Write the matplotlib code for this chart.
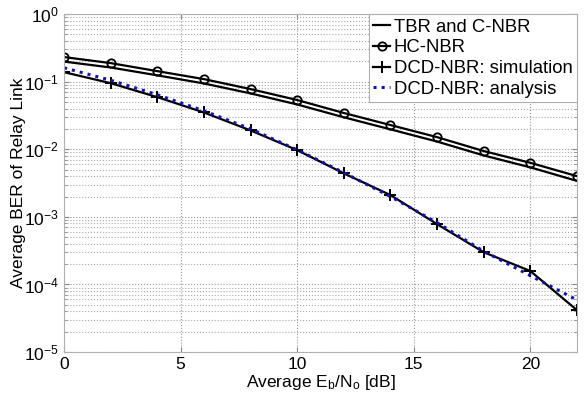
import matplotlib

matplotlib.use("Agg")
import matplotlib.pyplot as plt
from matplotlib.ticker import LogLocator, NullFormatter

plt.rcParams["font.family"] = ["Liberation Sans", "DejaVu Sans"]
plt.rcParams["mathtext.fontset"] = "custom"
plt.rcParams["mathtext.rm"] = "Liberation Sans"
plt.rcParams["mathtext.it"] = "Liberation Sans"
plt.rcParams["axes.unicode_minus"] = False

snr_db = [0, 2, 4, 6, 8, 10, 12, 14, 16, 18, 20, 22]
ber_tbr = [0.198, 0.162, 0.124, 0.094, 0.067, 0.046, 0.0297, 0.0197, 0.0130, 0.0081, 0.0054, 0.0034]
ber_hc = [0.231, 0.188, 0.143, 0.109, 0.0776, 0.0535, 0.0344, 0.0228, 0.0151, 0.0094, 0.0063, 0.0040]
ber_dcd_sim = [0.138, 0.095, 0.059, 0.035, 0.019, 0.0097, 0.0044, 0.0021, 0.00078, 0.00030, 0.000158, 0.0000417]
ber_dcd_ana = [0.160, 0.105, 0.064, 0.037, 0.020, 0.0098, 0.0045, 0.0020, 0.00082, 0.00031, 0.000135, 0.000059]

fig = plt.figure(figsize=(5.84, 4.01), dpi=100)
ax = fig.add_axes([0.1096, 0.122, 0.8784, 0.843])

ax.semilogy(snr_db, ber_tbr, "-", color="k", lw=1.6, label="TBR and C-NBR")
ax.semilogy(snr_db, ber_hc, "-o", color="k", lw=1.6, ms=6, mfc="none", mew=1.3, label="HC-NBR")
ax.semilogy(snr_db, ber_dcd_sim, "-+", color="k", lw=1.6, ms=9, mew=1.4, label="DCD-NBR: simulation")
ax.semilogy(snr_db, ber_dcd_ana, ":", color="#1010c0", lw=2.2, label="DCD-NBR: analysis")

ax.set_xlim(0, 22)
ax.set_ylim(1e-5, 1)
ax.set_xticks([0, 5, 10, 15, 20])
ax.yaxis.set_major_locator(LogLocator(base=10, numticks=10))
ax.yaxis.set_minor_locator(LogLocator(base=10, subs=range(2, 10), numticks=10))
ax.yaxis.set_minor_formatter(NullFormatter())
ax.tick_params(direction="in", labelsize=12.5, top=True, right=True, color="#888888")
ax.tick_params(which="minor", direction="in", right=True, color="#888888")
ax.grid(True, which="major", ls=":", color="#999999", lw=0.8)
ax.grid(True, which="minor", axis="y", ls=":", color="#aaaaaa", lw=0.8)
for s in ax.spines.values():
    s.set_color("#b0b0b0")

ax.set_xlabel("Average E$_b$/N$_o$ [dB]", fontsize=12.5, labelpad=1)
ax.set_ylabel("Average BER of Relay Link", fontsize=12.5)
ax.yaxis.set_label_coords(-0.074, 0.5)

leg = ax.legend(loc="upper right", fontsize=13.3, handlelength=0.9, handletextpad=0.2,
                borderpad=0.25, labelspacing=0.2, borderaxespad=0.0, fancybox=False,
                framealpha=1)
leg.get_frame().set_edgecolor("#b0b0b0")
leg.get_frame().set_linewidth(0.8)

fig.savefig("out.png", dpi=100)
